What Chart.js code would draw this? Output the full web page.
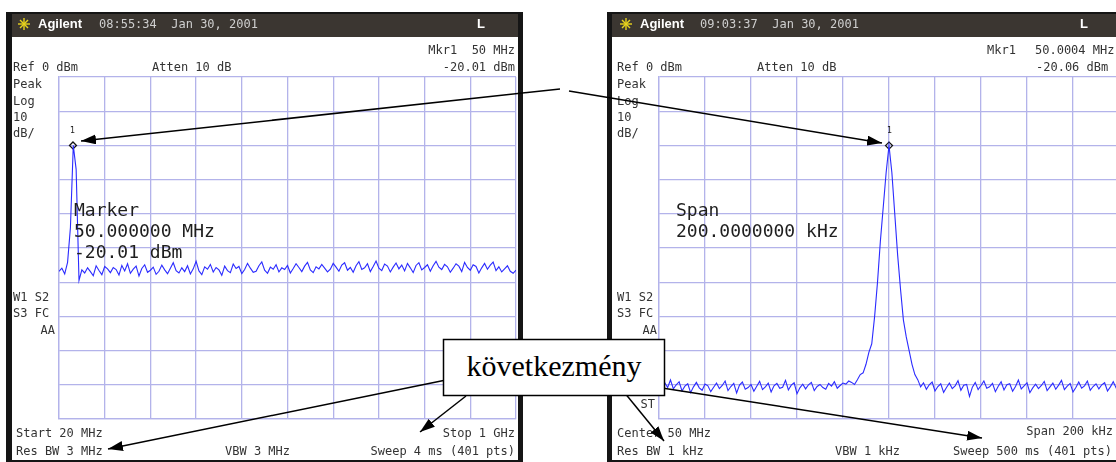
<!DOCTYPE html>
<html>
<head>
<meta charset="utf-8">
<script src="https://cdn.jsdelivr.net/npm/chart.js@4.4.0/dist/chart.umd.min.js"></script>
<style>
  html, body { margin: 0; padding: 0; background: #fff; }
  body { width: 1116px; height: 462px; position: relative; overflow: hidden; }
  .frame { position: absolute; background: #151515; }
  .head { position: absolute; background: #3b3631; }
  .screen { position: absolute; background: #fff; }
  canvas { position: absolute; top: 0; z-index: 2; }
  .t { position: absolute; z-index: 3; font: 12px/12px "DejaVu Sans Mono", monospace; color: #333; white-space: pre; }
  .r { text-align: right; }
  .big { position: absolute; z-index: 3; font: 18px/21px "DejaVu Sans Mono", monospace; color: #1e1e1e; white-space: pre; }
  .brand { position: absolute; z-index: 3; font: bold 13px/14px "Liberation Sans", Arial, sans-serif; color: #fff; }
  .clock { position: absolute; z-index: 3; font: 12px/12px "DejaVu Sans Mono", monospace; color: #cfcfcf; white-space: pre; }
  .mk { position: absolute; z-index: 3; font: 8px/8px "DejaVu Sans", sans-serif; color: #222; }
  svg { position: absolute; left: 0; top: 0; z-index: 5; }
</style>
</head>
<body>

<!-- left instrument screen -->
<div class="frame" style="left:6px;top:12px;width:517px;height:452px"></div>
<div class="head" style="left:12px;top:14px;width:506px;height:23px"></div>
<div class="screen" style="left:12px;top:37px;width:506px;height:423px"></div>

<!-- right instrument screen (cut at page edge) -->
<div class="frame" style="left:607px;top:12px;width:520px;height:452px"></div>
<div class="head" style="left:612px;top:14px;width:515px;height:23px"></div>
<div class="screen" style="left:612px;top:37px;width:515px;height:423px"></div>

<canvas id="leftTrace" width="530" height="462" style="left:0px"></canvas>
<canvas id="rightTrace" width="530" height="462" style="left:600px"></canvas>

<div id="labels"></div>

<svg width="1116" height="462">
  <defs>
    <marker id="head" markerUnits="userSpaceOnUse" markerWidth="15" markerHeight="10" refX="15" refY="5" orient="auto">
      <path d="M0,0 L15,5 L0,10 z" fill="#000"/>
    </marker>
  </defs>
  <g stroke="#000" stroke-width="1.5" fill="none">
    <line x1="560" y1="89" x2="81" y2="141" marker-end="url(#head)"/>
    <line x1="569" y1="91" x2="882" y2="143" marker-end="url(#head)"/>
    <line x1="446" y1="380" x2="108" y2="449" marker-end="url(#head)"/>
    <line x1="466" y1="396" x2="420" y2="432" marker-end="url(#head)"/>
    <line x1="624" y1="392" x2="664" y2="441" marker-end="url(#head)"/>
    <line x1="662" y1="388" x2="982" y2="438" marker-end="url(#head)"/>
  </g>
  <rect x="443.5" y="339.5" width="221" height="56" fill="#fff" stroke="#000" stroke-width="1.5"/>
  <text x="554" y="376" text-anchor="middle" font-family="Liberation Serif, Times New Roman, serif" font-size="30" fill="#000">következmény</text>
  <!-- Agilent logos -->
  <g stroke="#e8d21c" stroke-width="1.4">
    <line x1="18" y1="24" x2="30" y2="24"/><line x1="24" y1="18" x2="24" y2="30"/>
    <line x1="20" y1="20" x2="28" y2="28"/><line x1="28" y1="20" x2="20" y2="28"/>
    <line x1="620" y1="24" x2="632" y2="24"/><line x1="626" y1="18" x2="626" y2="30"/>
    <line x1="622" y1="20" x2="630" y2="28"/><line x1="630" y1="20" x2="622" y2="28"/>
  </g>
</svg>

<script>
// Left screen: start 20 MHz, stop 1 GHz, levels in dBm (equal frequency steps)
const leftStart = 20;
const leftStop = 1000;
const leftLevels = [
  -56.8, -55.9, -57.6, -54.2, -44.0, -20.0, -27.0, -59.5, -56.4, -57.3, -55.8, -56.9, -58.1, -55.2, -56.6, -57.8, -55.4, -56.1, -57.2, -55.7,
  -56.3, -57.9, -55.1, -56.7, -54.6, -57.4, -56.2, -55.3, -58.2, -56.0, -54.9, -57.1, -56.5, -55.6, -57.7, -56.8, -55.0, -56.4, -57.5, -55.9,
  -54.3, -56.6, -57.3, -55.8, -56.9, -55.2, -57.6, -56.1, -53.9, -56.7, -57.8, -55.5, -56.2, -54.8, -57.0, -55.7, -56.4, -58.0, -55.3, -56.6,
  -57.2, -54.7, -56.0, -55.4, -57.5, -56.3, -54.5, -55.9, -57.1, -56.8, -55.2, -54.1, -56.5, -57.4, -55.6, -56.2, -54.9, -57.0, -55.8, -56.3,
  -55.1, -57.3, -56.0, -54.6, -55.7, -56.9, -55.3, -54.2, -56.4, -57.2, -55.5, -56.1, -54.8, -55.9, -57.0, -56.2, -54.5, -55.6, -56.8, -55.0,
  -54.3, -56.5, -55.7, -57.1, -55.2, -54.0, -56.3, -55.8, -54.6, -56.9, -55.4, -53.8, -55.9, -56.6, -54.7, -55.3, -57.0, -55.6, -54.4, -56.1,
  -55.0, -56.7, -54.5, -55.8, -57.2, -55.1, -54.3, -56.4, -55.7, -54.9, -56.8, -55.2, -53.9, -55.6, -56.3, -54.8, -55.5, -57.1, -55.9, -54.6,
  -55.3, -56.9, -54.2, -55.7, -56.5, -54.9, -55.4, -57.3, -55.8, -54.5, -56.2, -55.0, -54.1, -56.6, -55.5, -57.0, -56.1, -55.2, -56.8, -57.4,
  -56.5
];
const leftMarker = { x: 50, y: -20.01 };

// Right screen: offset from 50 MHz centre in kHz, span 200 kHz
const rightStart = -100;
const rightStop = 100;
const rightLevels = [
  -90.2, -91.5, -89.4, -90.8, -88.6, -91.2, -90.0, -89.1, -91.8, -90.4, -89.7, -92.3, -90.6, -89.3, -90.9, -91.6, -89.8, -90.3, -92.0, -90.7,
  -89.5, -91.1, -90.2, -88.9, -91.7, -90.5, -89.6, -92.4, -90.1, -89.2, -91.3, -90.8, -89.9, -91.9, -90.4, -89.0, -91.4, -90.6, -89.5, -92.1,
  -90.3, -89.6, -91.0, -90.7, -88.7, -91.5, -90.1, -89.4, -92.6, -90.9, -89.8, -91.2, -90.0, -89.3, -91.7, -90.5, -89.9, -90.8, -91.3, -89.6,
  -90.4, -89.1, -91.0, -90.2, -89.5, -89.8, -88.9, -89.3, -89.9, -88.5, -87.0, -86.5, -84.0, -80.5, -78.0, -70.0, -60.0, -48.0, -38.0, -28.0,
  -20.0, -28.0, -40.0, -52.0, -62.0, -71.0, -76.0, -80.0, -84.0, -87.0, -88.5, -90.6, -89.4, -91.3, -90.0, -89.2, -91.8, -90.5, -89.7, -92.2,
  -90.8, -89.5, -91.1, -90.3, -88.8, -91.6, -90.1, -89.9, -93.4, -90.7, -89.3, -91.4, -90.2, -88.9, -91.0, -90.6, -89.6, -92.0, -90.4, -89.1,
  -91.5, -90.0, -89.7, -91.9, -90.5, -88.6, -91.2, -90.3, -89.4, -92.3, -90.9, -89.8, -91.1, -90.2, -89.0, -91.7, -90.6, -89.5, -91.3, -90.1,
  -88.7, -91.4, -90.4, -89.6, -92.1, -90.8, -89.2, -91.0, -90.3, -88.9, -91.6, -90.5, -89.7, -91.2, -90.0, -89.4, -91.8, -90.6, -89.1, -90.9,
  -90.2
];
const rightMarker = { x: 0, y: -20.06 };

// Reference level and display range (10 dB/div, 10 divisions)
const refLevel = 0;
const bottomLevel = -100;
const divisions = 10;

// Screen texts: [text, x, centre y, align]
const screenTexts = [
  ['Mkr1  50 MHz', 515, 50, 'r'], ['Ref 0 dBm', 13, 67], ['Atten 10 dB', 152, 67], ['-20.01 dBm', 515, 67, 'r'],
  ['Peak', 13, 84], ['Log', 13, 101], ['10', 13, 117], ['dB/', 13, 133],
  ['W1 S2', 13, 297], ['S3 FC', 13, 313], ['AA', 55, 330, 'r'],
  ['Start 20 MHz', 16, 433], ['Res BW 3 MHz', 16, 451], ['VBW 3 MHz', 225, 451],
  ['Stop 1 GHz', 515, 433, 'r'], ['Sweep 4 ms (401 pts)', 515, 451, 'r'],
  ['Mkr1', 987, 50], ['50.0004 MHz', 1035, 50], ['Ref 0 dBm', 617, 67], ['Atten 10 dB', 757, 67], ['-20.06 dBm', 1036, 67],
  ['Peak', 617, 84], ['Log', 617, 101], ['10', 617, 117], ['dB/', 617, 133],
  ['W1 S2', 617, 297], ['S3 FC', 617, 313], ['AA', 657, 330, 'r'], ['ST', 655, 404, 'r'],
  ['Center 50 MHz', 617, 433], ['Res BW 1 kHz', 617, 451], ['VBW 1 kHz', 835, 451],
  ['Span 200 kHz', 1113, 431, 'r'], ['Sweep 500 ms (401 pts)', 953, 451]
];

document.addEventListener('DOMContentLoaded', function() {
    drawLabels();
    initializeTrace('leftTrace', leftStart, leftStop, leftLevels, leftMarker, { left: 59, top: 77, right: 14, bottom: 43 });
    initializeTrace('rightTrace', rightStart, rightStop, rightLevels, rightMarker, { left: 59, top: 77, right: 11, bottom: 43 });
});

/**
 * Place the instrument annotations as plain text
 */
function drawLabels() {
    const box = document.getElementById('labels');
    let html = '';
    screenTexts.forEach(([text, x, y, align]) => {
        if (align === 'r') {
            html += `<div class="t r" style="right:${1116 - x}px;top:${y - 6}px">${text}</div>`;
        } else {
            html += `<div class="t" style="left:${x}px;top:${y - 6}px">${text}</div>`;
        }
    });
    // header lines
    html += '<div class="brand" style="left:38px;top:17px">Agilent</div>';
    html += '<div class="clock" style="left:99px;top:18px">08:55:34  Jan 30, 2001</div>';
    html += '<div class="brand" style="left:477px;top:17px">L</div>';
    html += '<div class="brand" style="left:640px;top:17px">Agilent</div>';
    html += '<div class="clock" style="left:700px;top:18px">09:03:37  Jan 30, 2001</div>';
    html += '<div class="brand" style="left:1080px;top:17px">L</div>';
    // active function readouts
    html += '<div class="big" style="left:74px;top:199px">Marker\n50.000000 MHz\n-20.01 dBm</div>';
    html += '<div class="big" style="left:676px;top:199px">Span\n200.0000000 kHz</div>';
    html += '<div class="mk" style="left:70px;top:127px">1</div>';
    html += '<div class="mk" style="left:887px;top:127px">1</div>';
    box.innerHTML = html;
}

/**
 * Draw one spectrum trace on its graticule
 */
function initializeTrace(id, start, stop, levels, marker, padding) {
    const ctx = document.getElementById(id);
    if (!ctx) return;

    const step = (stop - start) / (levels.length - 1);
    const points = levels.map((v, i) => ({ x: start + i * step, y: v }));
    const gridColor = '#b3b3ea';

    new Chart(ctx, {
        type: 'line',
        data: {
            datasets: [{
                data: points,
                borderColor: '#2b2bff',
                borderWidth: 1.1,
                pointRadius: 0,
                tension: 0
            }, {
                type: 'scatter',
                data: [marker],
                pointStyle: 'rectRot',
                pointRadius: 3.5,
                borderColor: '#111',
                backgroundColor: 'rgba(255,255,255,0)',
                borderWidth: 1.3
            }]
        },
        options: {
            responsive: false,
            animation: false,
            events: [],
            layout: { padding: padding },
            plugins: {
                legend: { display: false },
                tooltip: { enabled: false }
            },
            scales: {
                x: {
                    type: 'linear',
                    min: start,
                    max: stop,
                    afterBuildTicks: axis => {
                        const ticks = [];
                        for (let i = 0; i <= divisions; i++) ticks.push({ value: start + i * (stop - start) / divisions });
                        axis.ticks = ticks;
                    },
                    ticks: { display: false },
                    grid: { color: gridColor, lineWidth: 1.3, drawTicks: false },
                    border: { color: gridColor, width: 1.3 }
                },
                y: {
                    min: bottomLevel,
                    max: refLevel,
                    ticks: { display: false, stepSize: (refLevel - bottomLevel) / divisions },
                    grid: { color: gridColor, lineWidth: 1.3, drawTicks: false },
                    border: { color: gridColor, width: 1.3 }
                }
            }
        }
    });
}
</script>
</body>
</html>
